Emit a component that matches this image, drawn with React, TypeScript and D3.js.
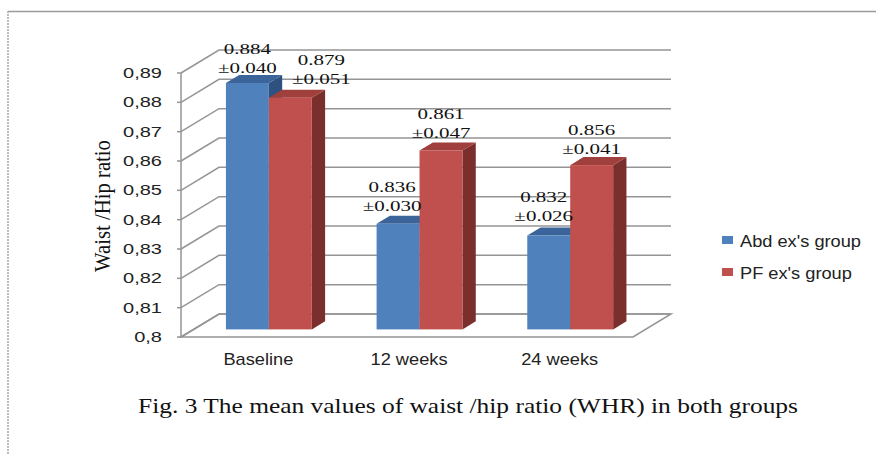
import React from "react";
import * as d3 from "d3";

const categories = ["Baseline", "12 weeks", "24 weeks"];
const seriesNames = ["Abd ex's group", "PF ex's group"];
const abdMeans = [0.884, 0.836, 0.832];
const abdSD = [0.04, 0.03, 0.026];
const pfMeans = [0.879, 0.861, 0.856];
const pfSD = [0.051, 0.047, 0.041];
const yTicks = [0.8, 0.81, 0.82, 0.83, 0.84, 0.85, 0.86, 0.87, 0.88, 0.89];
const yTitle = "Waist /Hip ratio";
const caption = "Fig. 3 The mean values of waist /hip ratio (WHR) in both groups";

const W = 876;
const H = 455;
// 3D layout
const plotLeft = 181;
const plotRight = 633;
const yBottom = 337;
const yTop = 73;
const depthX = 38;
const depthY = -23;
const barFront = 0.33;
const barBack = 0.68;
const groupFrac = 0.57;

const colors = [
  { front: "#4F81BD", top: "#3B659A", side: "#2F5180" },
  { front: "#C0504D", top: "#A0403D", side: "#7B2F2D" },
];
const gridColor = "#959595";
// label nudges (layout only) [series][category]
const labelNudge = [
  [0, -6, -5],
  [31, 0, 0],
];
const labelLift = [
  [10, 13, 15],
  [14, 12, 11],
];

export default function App() {
  const y = d3.scaleLinear().domain([0.8, 0.89]).range([yBottom, yTop]);
  const x0 = d3.scaleBand<string>().domain(categories).range([plotLeft, plotRight]).padding(0);
  const bw = x0.bandwidth();
  const groupW = bw * groupFrac;
  const x1 = d3
    .scaleBand<number>()
    .domain([0, 1])
    .range([(bw - groupW) / 2, (bw + groupW) / 2])
    .padding(0);

  const series = [
    { name: seriesNames[0], means: abdMeans, sds: abdSD },
    { name: seriesNames[1], means: pfMeans, sds: pfSD },
  ];

  const fdx = depthX * barFront;
  const fdy = depthY * barFront;
  const sdx = depthX * (barBack - barFront);
  const sdy = depthY * (barBack - barFront);

  const bars: React.ReactNode[] = [];
  const labels: React.ReactNode[] = [];
  categories.forEach((cat, ci) => {
    series.forEach((s, si) => {
      const v = s.means[ci];
      const xa = (x0(cat) as number) + (x1(si) as number) + fdx;
      const xb = xa + x1.bandwidth();
      const yt = y(v) + fdy;
      const yb = y(0.8) + fdy;
      const c = colors[si];
      bars.push(
        <g key={`b${ci}-${si}`}>
          <polygon
            points={`${xb},${yt} ${xb + sdx},${yt + sdy} ${xb + sdx},${yb + sdy} ${xb},${yb}`}
            fill={c.side}
          />
          <polygon
            points={`${xa},${yt} ${xb},${yt} ${xb + sdx},${yt + sdy} ${xa + sdx},${yt + sdy}`}
            fill={c.top}
          />
          <rect x={xa} y={yt} width={xb - xa} height={yb - yt} fill={c.front} />
        </g>
      );
      const cx = (xa + xb) / 2 + labelNudge[si][ci];
      const ly = yt - labelLift[si][ci];
      labels.push(
        <g key={`l${ci}-${si}`} fontFamily="'Liberation Serif', 'Times New Roman', serif" fontSize={15} fill="#111">
          <text transform={`translate(${cx},${ly - 19}) scale(1.4,1)`} textAnchor="middle">
            {v.toFixed(3)}
          </text>
          <text transform={`translate(${cx},${ly}) scale(1.4,1)`} textAnchor="middle">
            {"\u00B1" + s.sds[ci].toFixed(3)}
          </text>
        </g>
      );
    });
  });

  const fmt = (v: number) => String(+v.toFixed(2)).replace(".", ",");

  return (
    <svg
      width={W}
      height={H}
      style={{ position: "absolute", left: 0, top: 0, background: "#fff" }}
    >
      <rect x={0} y={0} width={W} height={H} fill="#fff" />
      {/* frame */}
      <line x1={8} y1={11.5} x2={W} y2={11.5} stroke="#9a9a9a" strokeWidth={1.5} />
      <line x1={8} y1={11} x2={8} y2={H} stroke="#a8a8a8" strokeWidth={1.5} strokeDasharray="2,1" />

      {/* gridlines: back wall + side diagonals */}
      {yTicks.map((t) => (
        <g key={`g${t}`} stroke={gridColor} strokeWidth={1.5} fill="none">
          <polyline
            points={`${plotLeft},${y(t)} ${plotLeft + depthX},${y(t) + depthY} ${plotRight + depthX},${y(t) + depthY}`}
          />
          <line x1={plotLeft - 4} y1={y(t)} x2={plotLeft} y2={y(t)} />
        </g>
      ))}
      {/* floor */}
      <polygon
        points={`${plotLeft},${y(0.8)} ${plotRight},${y(0.8)} ${plotRight + depthX},${y(0.8) + depthY} ${plotLeft + depthX},${y(0.8) + depthY}`}
        fill="none"
        stroke={gridColor}
        strokeWidth={1.5}
      />
      {/* front axis */}
      <line x1={plotLeft} y1={y(0.89)} x2={plotLeft} y2={y(0.8)} stroke={gridColor} strokeWidth={1.5} />

      {bars}
      {labels}

      {/* y tick labels */}
      {yTicks.map((t) => (
        <text
          key={`t${t}`}
          transform={`translate(${plotLeft - 19},${y(t) + 5}) scale(1.43,1)`}
          textAnchor="end"
          fontFamily="'Liberation Sans', Arial, sans-serif"
          fontSize={14}
          fill="#222"
        >
          {fmt(t)}
        </text>
      ))}

      {/* category labels */}
      {categories.map((c) => (
        <text
          key={`c${c}`}
          transform={`translate(${(x0(c) as number) + bw / 2 + 2},365) scale(1.14,1)`}
          textAnchor="middle"
          fontFamily="'Liberation Sans', Arial, sans-serif"
          fontSize={16}
          fill="#222"
        >
          {c}
        </text>
      ))}

      {/* y title */}
      <text
        transform="translate(110,206) rotate(-90)"
        textAnchor="middle"
        fontFamily="'Liberation Serif', 'Times New Roman', serif"
        fontSize={24}
        textLength={132}
        lengthAdjust="spacingAndGlyphs"
        fill="#111"
      >
        {yTitle}
      </text>

      {/* legend */}
      {series.map((s, i) => (
        <g key={`lg${i}`} transform={`translate(722,${236 + i * 32})`}>
          <rect x={0} y={0} width={11} height={8} fill={colors[i].front} />
          <text
            transform="translate(18,11) scale(1.14,1)"
            fontFamily="'Liberation Sans', Arial, sans-serif"
            fontSize={16}
            fill="#222"
          >
            {s.name}
          </text>
        </g>
      ))}

      {/* caption */}
      <text
        x={138}
        y={413}
        fontFamily="'Liberation Serif', 'Times New Roman', serif"
        fontSize={21}
        textLength={660}
        lengthAdjust="spacingAndGlyphs"
        fill="#111"
      >
        {caption}
      </text>
    </svg>
  );
}
